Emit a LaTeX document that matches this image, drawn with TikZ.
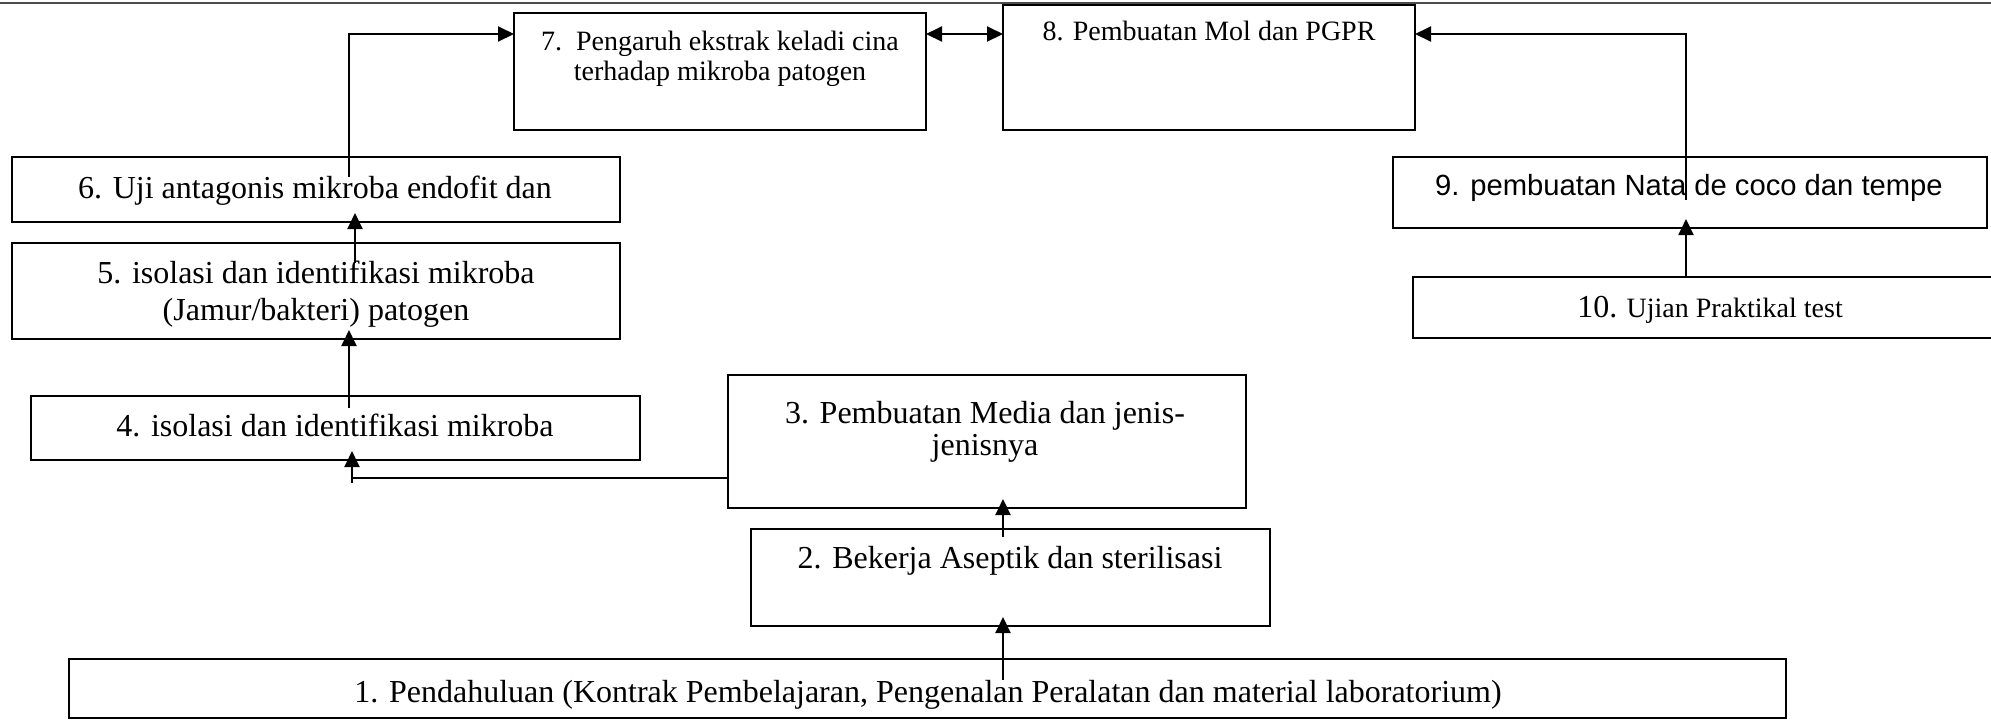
\documentclass[tikz,border=0pt]{standalone}
\usepackage{fontspec}
\setmainfont{Liberation Serif}
\newfontfamily\arialf{Liberation Sans}
\usetikzlibrary{arrows.meta,fit,calc}
\begin{document}
\begin{tikzpicture}[x=0.5pt,y=-0.5pt,
  box/.style={draw, line width=1.1pt, inner sep=0pt, outer sep=0pt},
  tt/.style={anchor=base, inner sep=0pt, font=\fontsize{16}{19}\selectfont},
  tc/.style={anchor=base, inner sep=0pt, font=\fontsize{14}{17}\selectfont},
  ta/.style={anchor=base, inner sep=0pt, font=\arialf\fontsize{14.6}{17}\selectfont},
  ln/.style={line width=1pt},
  arr/.style={ln, -{Triangle[length=8pt,width=7.5pt]}},
  arrin/.style={arr, shorten >=-4.5pt},
  darr/.style={ln, {Triangle[length=8pt,width=7.5pt]}-{Triangle[length=8pt,width=7.5pt]}},
]
\useasboundingbox (0,0) rectangle (1991,720);
% top rule
\coordinate (tl) at (0,3);
\coordinate (tr) at (1991,3);
\draw[line width=1.2pt, gray!60!black] (tl) -- (tr);

% boxes
\node[box, fit={(69,659)(1786,718)}] (b1) {};
\node[box, fit={(751,529)(1270,626)}] (b2) {};
\node[box, fit={(728,375)(1246,508)}] (b3) {};
\node[box, fit={(31,396)(640,460)}] (b4) {};
\node[box, fit={(12,243)(620,339)}] (b5) {};
\node[box, fit={(12,157)(620,222)}] (b6) {};
\node[box, fit={(514,13)(926,130)}] (b7) {};
\node[box, fit={(1003,5)(1415,130)}] (b8) {};
\node[box, fit={(1393,157)(1987,228)}] (b9) {};
\node[box, fit={(1413,277)(2010,338)}] (b10) {};

% texts
\node[tt] (t1) at (928,702) {1. Pendahuluan (Kontrak Pembelajaran, Pengenalan Peralatan dan material laboratorium)};
\node[tt] (t2) at (1010,568) {2. Bekerja Aseptik dan sterilisasi};
\node[tt] (t3a) at (985,423) {3. Pembuatan Media dan jenis-};
\node[tt] (t3b) at (985,455) {jenisnya};
\node[tt] (t4) at (335,436) {4. isolasi dan identifikasi mikroba};
\node[tt] (t5a) at (316,283) {5. isolasi dan identifikasi mikroba};
\node[tt] (t5b) at (316,320) {(Jamur/bakteri) patogen};
\node[tt] (t6) at (315,198) {6. Uji antagonis mikroba endofit dan};
\node[tc] (t7a) at (720,50) {7.\ \ Pengaruh ekstrak keladi cina};
\node[tc] (t7b) at (720,80) {terhadap mikroba patogen};
\node[tc] (t8) at (1209,40) {8. Pembuatan Mol dan PGPR};
\node[ta] (t9) at (1689,195) {9. pembuatan Nata de coco dan tempe};
\node[tc] (t10) at (1710,317) {{\fontsize{16}{19}\selectfont 10.} Ujian Praktikal test};

% connectors
\coordinate (s6) at (349,177);
\coordinate (k67) at (349,34);
\draw[arr] (s6) -- (k67) -- (k67 -| b7.west);

\coordinate (s5) at (355,263);
\draw[arrin] (s5) -- (s5 |- b6.south);

\coordinate (s4) at (349,408);
\draw[arrin] (s4) -- (s4 |- b5.south);

\coordinate (k34) at (352,478);
\coordinate (s34) at (352,483);
\draw[ln] (b3.west |- k34) -- (k34);
\draw[arrin] (s34) -- (s34 |- b4.south);

\coordinate (s2) at (1003,537);
\draw[arrin] (s2) -- (s2 |- b3.south);

\coordinate (s1) at (1003,680);
\draw[arrin] (s1) -- (s1 |- b2.south);

\coordinate (s10) at (1686,277);
\draw[arrin] (s10) -- (s10 |- b9.south);

\coordinate (s9) at (1686,200);
\coordinate (k98) at (1686,34);
\draw[arr] (s9) -- (k98) -- (k98 -| b8.east);

\coordinate (k78) at (960,34);
\draw[darr] (k78 -| b7.east) -- (k78 -| b8.west);
\end{tikzpicture}
\end{document}
